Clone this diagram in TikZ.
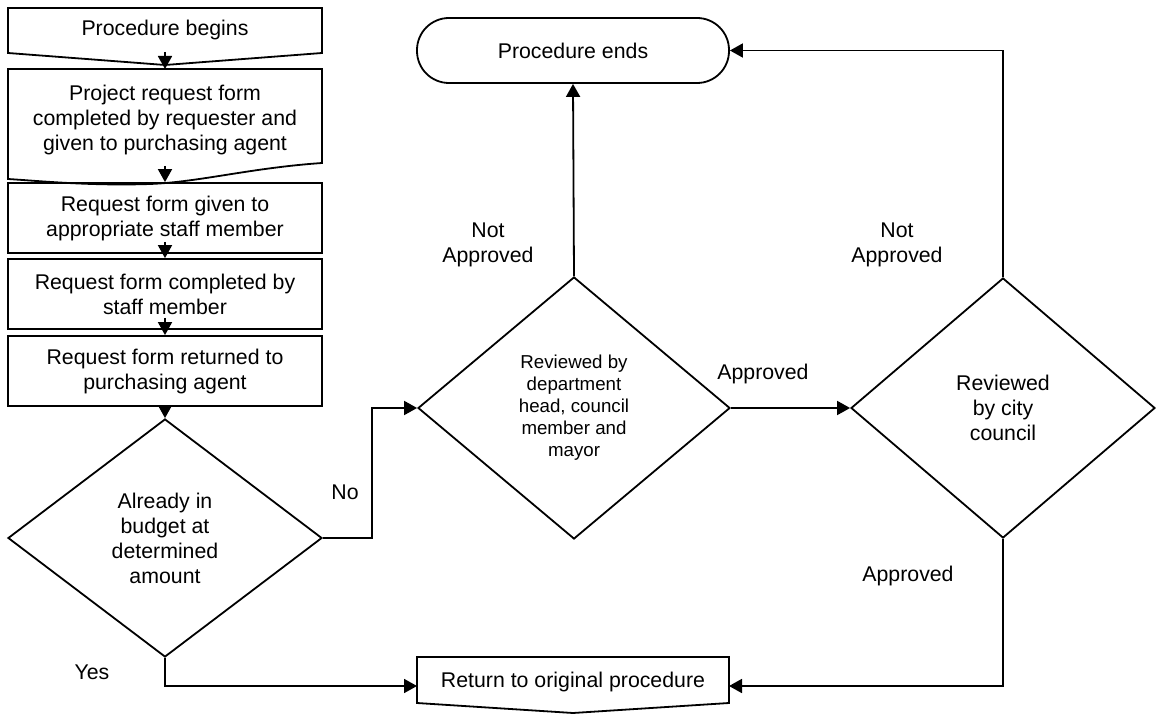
\documentclass[tikz,border=0pt]{standalone}
\usepackage{fontspec}
\setmainfont{Liberation Sans}
\usetikzlibrary{shapes.geometric,arrows.meta,calc}
\begin{document}
\begin{tikzpicture}[x=1pt,y=-1pt,
  every node/.style={font=\fontsize{21.3}{25}\selectfont, align=center, inner sep=0pt},
  line/.style={line width=1.8pt},
  arr/.style={line width=1.8pt, -{Triangle[length=13pt,width=14pt]}},
  procbox/.style={draw, line width=1.8pt, minimum width=314pt, minimum height=70pt},
  decision/.style={draw, diamond, line width=1.8pt}
]
\useasboundingbox (0,0) rectangle (1156,714);

% Procedure begins (off-page shape)
\node (b1) at (165,30) {Procedure begins};
\draw[line] (8,8) -- (322,8) -- (322,53) -- (165,65) -- (8,53) -- cycle;
\coordinate (b1tip) at (165,52);

% Document shape
\node (b2) at (165,120) {Project request form\\completed by requester and\\given to purchasing agent};
\draw[line] (8,69) -- (322,69) -- (322,163)
  .. controls (250,168) and (200,182) .. (150,184)
  .. controls (90,186) and (40,181) .. (8,179) -- cycle;
\coordinate (b2top) at (165,69);
\coordinate (b2tip) at (165,166);

\node[procbox] (b3) at (165,218) {Request form given to\\appropriate staff member};
\node[procbox] (b4) at (165,294) {Request form completed by\\staff member};
\node[procbox] (b5) at (165,371) {Request form returned to\\purchasing agent};

\node[decision, minimum width=314pt, minimum height=238pt] (d1) at (165,538)
  {Already in\\budget at\\determined\\amount};
\node[decision, minimum width=312pt, minimum height=262pt,
  font=\fontsize{18.7}{22}\selectfont] (d2) at (574,408)
  {Reviewed by\\department\\head, council\\member and\\mayor};
\node[decision, minimum width=304pt, minimum height=260pt] (d3) at (1003,408)
  {Reviewed\\by city\\council};

\node[draw, line width=1.8pt, rounded corners=32pt, minimum width=312pt,
  minimum height=65pt] (pe) at (573,50.5) {Procedure ends};

% Return to original procedure (off-page shape)
\node (ret) at (573,682) {Return to original procedure};
\draw[line] (417,657) -- (729,657) -- (729,703) -- (573,713) -- (417,703) -- cycle;
\coordinate (retW) at (417,686);
\coordinate (retE) at (729,686);

% connectors
\draw[arr] (b1tip) -- (b2top);
\draw[arr] (b2tip) -- (b3.north);
\draw[arr] ([yshift=12pt]b3.south) -- (b4.north);
\draw[arr] ([yshift=12pt]b4.south) -- (b5.north);
\draw[arr] (b5.south) -- (d1.north);
\draw[arr] (d1.east) -- ++(49,0) |- (d2.west);
\draw[arr] (d2.north) -- (pe.south);
\draw[arr] (d2.east) -- (d3.west);
\draw[arr] (d3.north) |- (pe.east);
\draw[arr] (d1.south) |- (retW);
\draw[arr] (d3.south) |- (retE);

% labels
\node (lno) at (345,492) {No};
\node (lyes) at (92,672) {Yes};
\node (lna1) at (488,245) {Not\\Approved};
\node (lna2) at (897,245) {Not\\Approved};
\node (lap1) at (763,374) {Approved};
\node (lap2) at (908,576) {Approved};
\end{tikzpicture}
\end{document}
